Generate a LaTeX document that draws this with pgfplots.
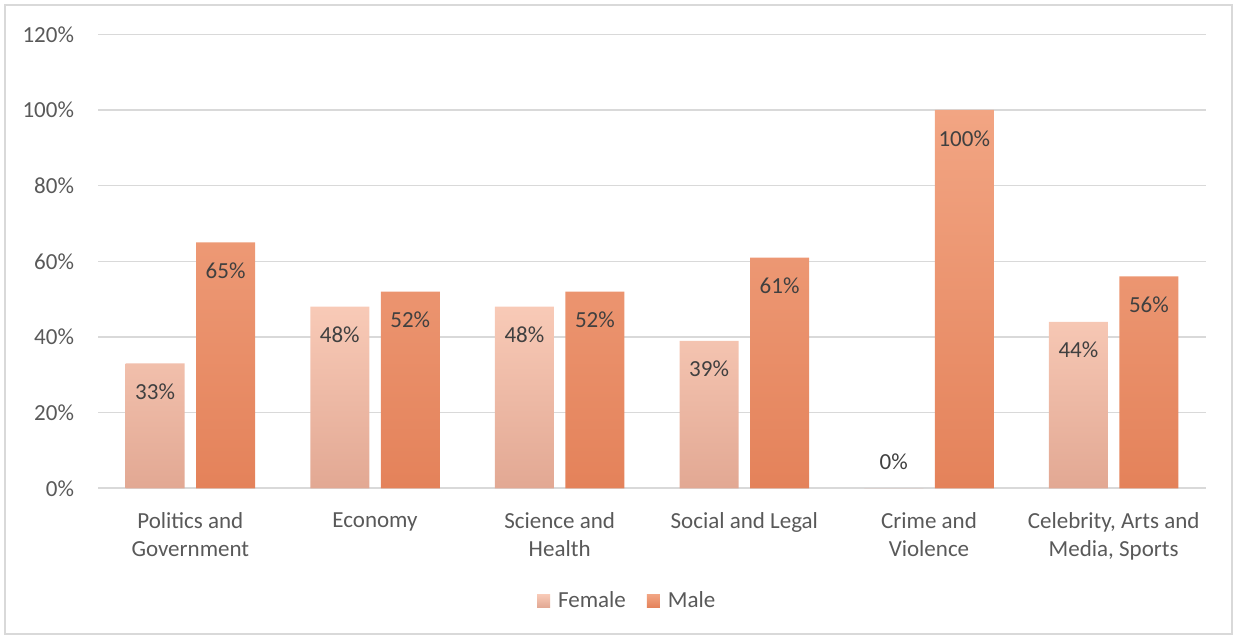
\documentclass[border=0pt]{standalone}
\usepackage{pgfplots}
\pgfplotsset{compat=1.18}
\usepackage{pgfplotstable}
\usepackage{fontspec}
\setmainfont{Carlito}
\definecolor{txt}{HTML}{595959}
\definecolor{lbl}{HTML}{404040}
\definecolor{gridc}{HTML}{D9D9D9}
\definecolor{ftop}{HTML}{F8CAB7}
\definecolor{fmid}{HTML}{F6BDA7}
\definecolor{fbot}{HTML}{E2A893}
\definecolor{mtop}{HTML}{F2A583}
\definecolor{mmid}{HTML}{F4996B}
\definecolor{mbot}{HTML}{E4825A}
\pgfplotstableread{
x f m
0 33 65
1 48 52
2 48 52
3 39 61
4 0 100
5 44 56
}\datatable
\begin{document}
\begin{tikzpicture}
\begin{axis}[name=ax, scale only axis, width=554bp, height=227bp,
  ybar=5.75bp, bar width=29.5bp,
  xmin=-0.5, xmax=5.5, ymin=0, ymax=120,
  xtick={0,...,5},
  xticklabels={{Politics and\\Government},{Economy},{Science and\\Health},{Social and Legal},{Crime and\\Violence},{Celebrity, Arts and\\Media, Sports}},
  xticklabel style={align=center, font=\fontsize{11.5bp}{14bp}\selectfont, text=txt, yshift=-8.5bp},
  ytick={0,20,...,120},
  yticklabel={\pgfmathprintnumber{\tick}\%},
  yticklabel style={font=\fontsize{11.5bp}{14bp}\selectfont, text=txt, xshift=-8.5bp},
  /pgf/number format/assume math mode=true,
  major tick length=0pt,
  ymajorgrids, grid style={gridc, line width=0.75bp},
  axis lines*=left,
  y axis line style={draw=none},
  x axis line style={gridc, line width=1bp},
  nodes near coords={\pgfmathprintnumber{\pgfplotspointmeta}\%},
  nodes near coords align={center},
  visualization depends on={rawy \as \rawy},
  every node near coord/.append style={font=\fontsize{11.5bp}{14bp}\selectfont, text=lbl, anchor=center,
    yshift={(\rawy==0) ? 13.25 : -14.25}},
  legend style={at={(0.4785,-0.248)}, anchor=center, legend columns=2, draw=none,
    font=\fontsize{11.5bp}{14bp}\selectfont, text=txt,
    /tikz/every odd column/.append style={column sep=2bp},
    /tikz/every even column/.append style={column sep=8.5bp}},
  legend image code/.code={\path[#1,draw=none] (0bp,-3.25bp) rectangle (6.5bp,3.25bp);},
]
\addplot[draw=none, top color=ftop, middle color=fmid, bottom color=fbot]
  table[x=x, y=f] {\datatable};
\addplot[draw=none, top color=mtop, middle color=mmid, bottom color=mbot]
  table[x=x, y=m] {\datatable};
\legend{Female, Male}
\end{axis}
\draw[gridc, line width=0.75bp] ([shift={(-46.5bp,-72.85bp)}]ax.south west) rectangle ([shift={(567bp,241.65bp)}]ax.south west);
\pgfresetboundingbox
\path ([shift={(-49bp,-75.35bp)}]ax.south west) rectangle ([shift={(568bp,244.15bp)}]ax.south west);
\end{tikzpicture}
\end{document}
